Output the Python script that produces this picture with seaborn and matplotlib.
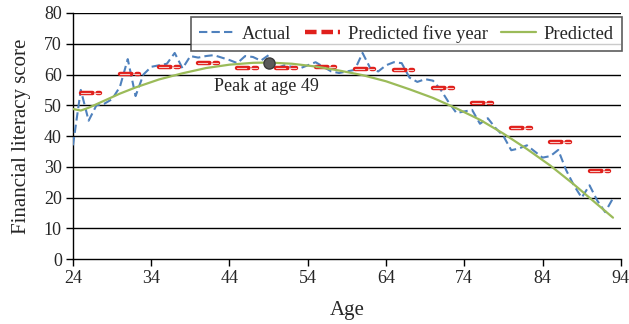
import numpy as np
import pandas as pd
import matplotlib
matplotlib.use('Agg')
import matplotlib.pyplot as plt
from matplotlib.lines import Line2D
import seaborn as sns

# actual score by single year of age
ages = list(range(24, 94))
actual = [37, 55, 45, 50, 50.5, 52, 56, 65, 53, 60,
          62.5, 63, 63.5, 67, 62, 66, 65.5, 66, 66.3, 65.5,
          64.7, 63.7, 66, 65.7, 64.5, 66.3, 62, 63, 62.5, 62,
          63, 64, 62.5, 61, 60.5, 61, 61.5, 67, 62, 61,
          63, 64, 63.7, 59, 57.6, 58.5, 58, 55, 51, 47.5,
          48, 48.5, 44, 45.8, 42.6, 40, 35.4, 36, 37, 35,
          33, 33.5, 35.5, 29, 24, 20, 24, 19, 15.3, 19.8]

# five-year group averages (first age of each group)
group_start = [25, 30, 35, 40, 45, 50, 55, 60, 65, 70, 75, 80, 85, 90]
five_year = [53.9, 60.2, 62.5, 63.9, 62.0, 62.2, 62.5, 61.7, 61.5, 55.7, 50.7, 42.5, 38.2, 28.6]

# fitted curve
fit_age = [24, 25, 26, 28, 30, 32, 35, 38, 41, 44, 47, 49, 52, 55, 58, 61, 64, 67, 70, 73, 76, 79, 82, 85, 88, 91, 93]
fit_val = [48.8, 48.3, 49.2, 51.5, 53.8, 55.8, 58.4, 60.4, 62.1, 63.2, 63.8, 63.9, 63.5, 62.6, 61.3, 59.8,
           57.8, 55.2, 52.4, 49.0, 45.3, 40.8, 35.8, 30.4, 24.3, 17.8, 13.5]

peak_age, peak_val = 49, 63.9

blue = '#4f81bd'
red = '#e0201c'
green = '#9bbb59'

sns.set_style('white')
plt.rcParams['font.family'] = ['Liberation Serif', 'DejaVu Serif']

fig, ax = plt.subplots(figsize=(6.29, 3.24), dpi=100)
fig.subplots_adjust(left=0.116, right=0.987, top=0.96, bottom=0.2)

for v in range(10, 90, 10):
    ax.axhline(v, color='black', lw=1.0, zorder=1)

df_act = pd.DataFrame({'age': ages, 'score': actual})
sns.lineplot(data=df_act, x='age', y='score', ax=ax, color=blue, lw=1.5, zorder=3)
ax.lines[-1].set_dashes([4, 2])

seg_w = 2.5
rows = []
for g, v in zip(group_start, five_year):
    rows.append({'grp': g, 'age': g, 'score': v})
    rows.append({'grp': g, 'age': g + seg_w, 'score': v})
df_five = pd.DataFrame(rows)
for g, sub in df_five.groupby('grp'):
    ax.plot(sub['age'], sub['score'], color=red, lw=3.2, dashes=[2.6, 1.1],
            dash_capstyle='round', zorder=4)
    ax.plot(sub['age'], sub['score'], color='#f6c9c6', lw=0.8, dashes=[8.3, 3.5],
            dash_capstyle='round', zorder=5)

df_fit = pd.DataFrame({'age': fit_age, 'score': fit_val})
sns.lineplot(data=df_fit, x='age', y='score', ax=ax, color=green, lw=1.6, zorder=6)

ax.plot([peak_age], [peak_val], 'o', ms=8, color='#5a5a5a', mec='#3a3a3a', mew=1, zorder=7)
ax.text(42, 56, 'Peak at age 49', fontsize=13, va='center', ha='left', zorder=8)

ax.set_xlim(24, 94)
ax.set_ylim(0, 80)
ax.set_xticks(range(24, 95, 10))
ax.set_yticks(range(0, 81, 10))
ax.tick_params(axis='both', direction='out', length=5, width=1, color='black',
               labelsize=13, pad=3, left=True, bottom=True)
for s in ['top', 'right']:
    ax.spines[s].set_visible(False)
for s in ['left', 'bottom']:
    ax.spines[s].set_color('black')
    ax.spines[s].set_linewidth(1.0)
ax.set_xlabel('Age', fontsize=15, labelpad=10)
ax.set_ylabel('Financial literacy score', fontsize=15, labelpad=9)

handles = [
    Line2D([], [], color=blue, lw=1.5, dashes=[4, 2]),
    Line2D([], [], color=red, lw=3.2, dashes=[2.6, 1.1]),
    Line2D([], [], color=green, lw=1.6),
]
leg = ax.legend(handles, ['Actual', 'Predicted five year', 'Predicted'], ncol=3,
                loc='upper right', bbox_to_anchor=(1.002, 0.985), fontsize=13.3,
                frameon=True, fancybox=False, handlelength=1.9, handletextpad=0.43,
                columnspacing=0.7, borderpad=0.45, borderaxespad=0)
leg.get_frame().set_edgecolor('#333333')
leg.get_frame().set_linewidth(1.2)
leg.set_zorder(10)

fig.savefig('out.png', dpi=100)
